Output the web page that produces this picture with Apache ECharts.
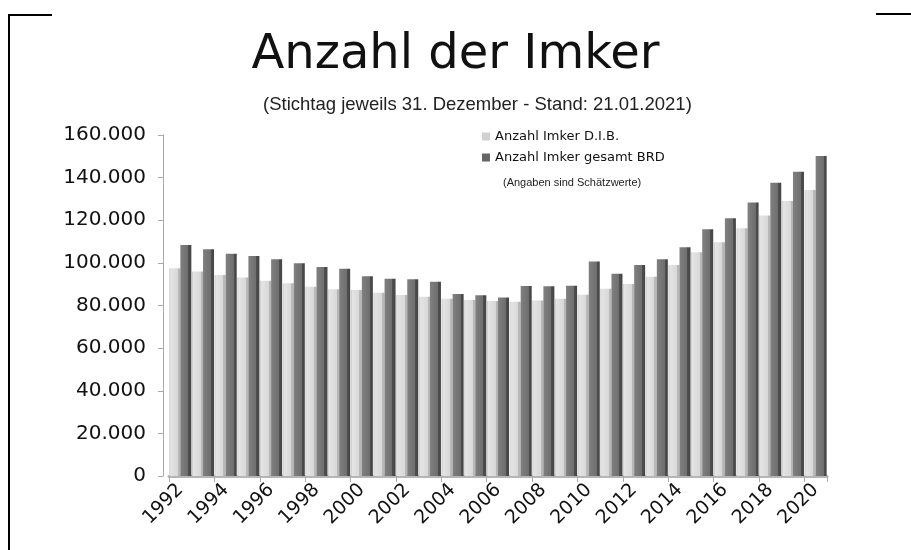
<!DOCTYPE html>
<html>
<head>
<meta charset="utf-8">
<title>Anzahl der Imker</title>
<script src="https://cdn.jsdelivr.net/npm/echarts@6/dist/echarts.min.js"></script>
<style>
	html, body { margin: 0; padding: 0; background: #fff; }
	#chart { width: 911px; height: 550px; }
</style>
</head>
<body>
<div id="chart"></div>
<script>
// Jahre (Stichtag jeweils 31.12.)
const years = ["1992", "1993", "1994", "1995", "1996", "1997", "1998", "1999", "2000", "2001",
	"2002", "2003", "2004", "2005", "2006", "2007", "2008", "2009", "2010", "2011",
	"2012", "2013", "2014", "2015", "2016", "2017", "2018", "2019", "2020"];
// Anzahl Imker D.I.B.
const imkerDIB = [97500, 95900, 94300, 93100, 91600, 90400, 88800, 87600, 87300, 86000,
	84900, 84100, 83200, 82600, 82100, 81800, 82300, 83200, 85100, 87900,
	90100, 93500, 99000, 105000, 109700, 116200, 122200, 129000, 134200];
// Anzahl Imker gesamt BRD (Schätzwerte)
const imkerBRD = [108400, 106400, 104300, 103200, 101700, 99800, 98100, 97300, 93700, 92600,
	92300, 91200, 85400, 84800, 83700, 89200, 89000, 89300, 100700, 94900,
	99000, 101700, 107300, 115800, 120900, 128300, 137600, 142800, 150200];
const yTicks = { min: 0, max: 160000, interval: 20000 };

const myChart = echarts.init(document.getElementById("chart"));

// 3D-Optik grob nachgebaut: Verlauf + dunkle Seitenkante
const lightFill = new echarts.graphic.LinearGradient(0, 0, 1, 0, [
	{ offset: 0, color: "#c4c4c4" },
	{ offset: 0.12, color: "#e4e4e4" },
	{ offset: 0.78, color: "#d8d8d8" },
	{ offset: 0.78, color: "#bbbbbb" },
	{ offset: 1, color: "#b3b3b3" }
]);
const darkFill = new echarts.graphic.LinearGradient(0, 0, 1, 0, [
	{ offset: 0, color: "#808080" },
	{ offset: 0.72, color: "#6e6e6e" },
	{ offset: 0.72, color: "#4f4f4f" },
	{ offset: 1, color: "#444" }
]);

const fmt = v => (v === 0 ? "0" : v / 1000 + ".000");

const option = {
	animation: false,
	backgroundColor: "#fff",
	title: [
		{
			text: "Anzahl der Imker",
			left: "center",
			top: 27,
			textStyle: { fontFamily: "DejaVu Sans", fontSize: 48, fontWeight: "normal", color: "#111" }
		},
		{
			text: "(Stichtag jeweils 31. Dezember - Stand: 21.01.2021)",
			left: 258,
			top: 90,
			textStyle: { fontFamily: "Liberation Sans", fontSize: 18.5, fontWeight: "normal", color: "#222" }
		}
	],
	legend: {
		orient: "vertical",
		left: 477,
		top: 125,
		itemWidth: 8,
		itemHeight: 8,
		itemGap: 8,
		icon: "rect",
		textStyle: { fontFamily: "DejaVu Sans", fontSize: 13, color: "#111" },
		data: [
			{ name: "Anzahl Imker D.I.B.", itemStyle: { color: "#d0d0d0" } },
			{ name: "Anzahl Imker gesamt BRD", itemStyle: { color: "#666" } }
		]
	},
	graphic: [
		{
			type: "text",
			left: 503,
			top: 177,
			style: { text: "(Angaben sind Schätzwerte)", font: "11px Liberation Sans", fill: "#222" }
		},
		// Rahmen aus dem Originalbild
		{ type: "line", shape: { x1: 9, y1: 15, x2: 9, y2: 550 }, style: { stroke: "#000", lineWidth: 2 } },
		{ type: "line", shape: { x1: 8, y1: 15, x2: 52, y2: 15 }, style: { stroke: "#000", lineWidth: 2 } },
		{ type: "line", shape: { x1: 876, y1: 14, x2: 911, y2: 14 }, style: { stroke: "#000", lineWidth: 2 } }
	],
	grid: { left: 169, right: 84, top: 135, bottom: 74 },
	xAxis: {
		type: "category",
		data: years,
		axisLine: { lineStyle: { color: "#b5b5b5", width: 3 } },
		axisTick: { show: true, length: 6, lineStyle: { color: "#aaa" } },
		axisLabel: {
			interval: 1,
			rotate: 45,
			margin: 11,
			fontFamily: "DejaVu Sans",
			fontSize: 19,
			color: "#111"
		}
	},
	yAxis: {
		type: "value",
		min: yTicks.min,
		max: yTicks.max,
		interval: yTicks.interval,
		offset: 6,
		axisLine: { show: true, lineStyle: { color: "#aaa" } },
		axisTick: { show: true, length: 5, lineStyle: { color: "#aaa" } },
		splitLine: { show: false },
		axisLabel: {
			formatter: fmt,
			margin: 17,
			fontFamily: "DejaVu Sans",
			fontSize: 20,
			color: "#111"
		}
	},
	series: [
		{
			name: "Anzahl Imker D.I.B.",
			type: "bar",
			data: imkerDIB,
			barWidth: 11,
			barGap: "0%",
			itemStyle: { color: lightFill }
		},
		{
			name: "Anzahl Imker gesamt BRD",
			type: "bar",
			data: imkerBRD,
			barWidth: 11,
			itemStyle: { color: darkFill }
		}
	]
};

myChart.setOption(option);
</script>
</body>
</html>
